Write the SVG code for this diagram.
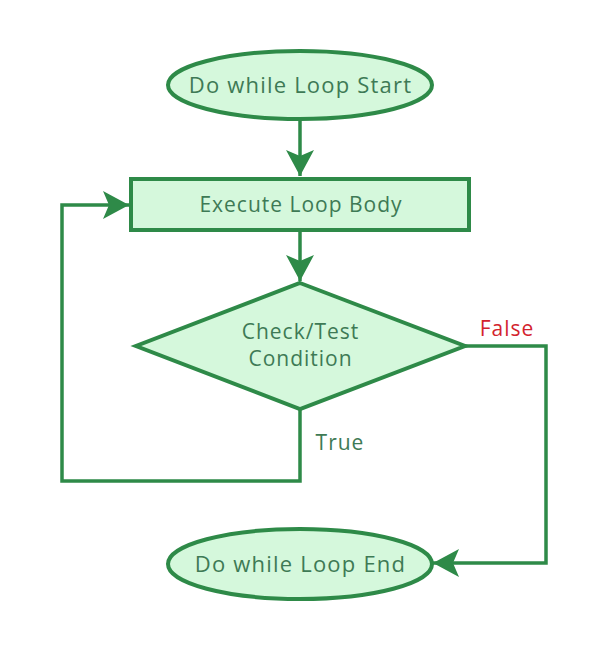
<svg xmlns="http://www.w3.org/2000/svg" width="606" height="654" viewBox="0 0 606 654">
<style>
.shape{fill:#d5f8dc;stroke:#2e8a48;stroke-width:4}
.conn{fill:none;stroke:#2e8a48;stroke-width:3.5}
.lbl{font-family:"Open Sans","Liberation Sans",sans-serif;font-size:21px;letter-spacing:1px;fill:#3e7a55;text-anchor:middle}
.big{font-size:22px;letter-spacing:1.2px}
</style>
<defs>
<marker id="ah" markerWidth="28" markerHeight="30" refX="26" refY="15" orient="auto" markerUnits="userSpaceOnUse">
<path d="M0,1 L26,15 L0,29 L6,15 Z" fill="#2e8a48"/>
</marker>
</defs>
<rect width="606" height="654" fill="#ffffff"/>
<g id="connectors">
<path class="conn" d="M300,120 V176" marker-end="url(#ah)"/>
<path class="conn" d="M300,231 V281" marker-end="url(#ah)"/>
<path class="conn" d="M300,409 V481 H62 V205 H129" marker-end="url(#ah)"/>
<path class="conn" d="M465,346 H546 V563 H433" marker-end="url(#ah)"/>
<text x="340" y="450" class="lbl">True</text>
<text x="507" y="336" class="lbl" style="fill:#d3222d">False</text>
</g>
<g id="start">
<ellipse class="shape" cx="300" cy="85" rx="132" ry="34"/>
<text x="300.5" y="93" class="lbl big">Do while Loop Start</text>
</g>
<g id="body">
<rect class="shape" x="131" y="179" width="338" height="51"/>
<text x="301" y="212" class="lbl">Execute Loop Body</text>
</g>
<g id="check">
<polygon class="shape" points="300,283 465,346 300,409 136,346"/>
<text x="300.5" y="339" class="lbl">Check/Test</text>
<text x="300.5" y="366" class="lbl">Condition</text>
</g>
<g id="end">
<ellipse class="shape" cx="300" cy="564" rx="132" ry="35"/>
<text x="300.5" y="572" class="lbl big">Do while Loop End</text>
</g>
</svg>
